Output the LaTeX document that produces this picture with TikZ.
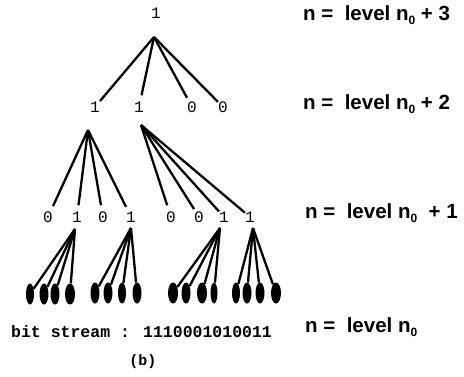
\documentclass[tikz,border=0pt]{standalone}
\usepackage{fontspec}
\newfontfamily\monof{Liberation Mono}
\newfontfamily\sansf{Liberation Sans}
\usetikzlibrary{shapes.geometric}
\newcommand{\nzero}{\raisebox{-0.4ex}{\fontsize{12}{12}\selectfont 0}}
\begin{document}
\begin{tikzpicture}[x=1pt,y=-1pt,
  digit/.style={font=\monof\fontsize{16}{16}\selectfont, inner sep=0pt, minimum height=23pt, minimum width=8pt},
  branch/.style={line width=2.3pt},
  leaf/.style={ellipse, fill=black, draw=none, minimum width=9pt, minimum height=21pt, inner sep=0pt},
  lvl/.style={font=\sansf\bfseries\fontsize{20.5}{20.5}\selectfont, anchor=base west, inner sep=0pt},
  captext/.style={font=\monof\bfseries\fontsize{16.5}{16.5}\selectfont, inner sep=0pt}]
\useasboundingbox (0,0) rectangle (464,376);

% root
\node[digit] (r) at (156,13) {1};
\coordinate (ra) at (154,37);

% level n0+2
\node[digit] (a1) at (95,107) {1};
\node[digit] (a2) at (139,107) {1};
\node[digit] (a3) at (192,107) {0};
\node[digit] (a4) at (223,107) {0};
\foreach \t in {a1,a2,a3,a4} \draw[branch] (ra) -- (\t);

\coordinate (a1x) at (88,130);
\coordinate (a2x) at (141,125);

% level n0+1
\node[digit] (b1) at (48,217) {0};
\node[digit] (b2) at (77,217) {1};
\node[digit] (b3) at (103,217) {0};
\node[digit] (b4) at (131,217) {1};
\node[digit] (b5) at (171,217) {0};
\node[digit] (b6) at (199,217) {0};
\node[digit] (b7) at (224,217) {1};
\node[digit] (b8) at (250,217) {1};
\foreach \t in {b1,b2,b3,b4} \draw[branch] (a1x) -- (\t);
\foreach \t in {b5,b6,b7,b8} \draw[branch] (a2x) -- (\t);

\coordinate (b2x) at (75,229);
\coordinate (b4x) at (131,228);
\coordinate (b7x) at (220,228);
\coordinate (b8x) at (253,228);

% leaves
\node[leaf, minimum width=8pt] (c1) at (30,294) {};
\node[leaf] (c2) at (44,294) {};
\node[leaf] (c3) at (55,294) {};
\node[leaf, minimum width=10pt] (c4) at (70,294) {};
\node[leaf] (c5) at (95,293) {};
\node[leaf] (c6) at (108,293) {};
\node[leaf, minimum width=8pt] (c7) at (122,293) {};
\node[leaf] (c8) at (137,293) {};
\node[leaf, minimum width=10pt] (c9) at (173,293) {};
\node[leaf] (c10) at (186,293) {};
\node[leaf, minimum width=10pt] (c11) at (202,293) {};
\node[leaf, minimum width=7pt] (c12) at (214,293) {};
\node[leaf, minimum width=8pt] (c13) at (236,293) {};
\node[leaf] (c14) at (247,293) {};
\node[leaf] (c15) at (260,293) {};
\node[leaf, minimum width=10pt] (c16) at (276,293) {};
\foreach \t in {c1,c2,c3,c4} \draw[branch] (b2x) -- (\t);
\foreach \t in {c5,c6,c7,c8} \draw[branch] (b4x) -- (\t);
\foreach \t in {c9,c10,c11,c12} \draw[branch] (b7x) -- (\t);
\foreach \t in {c13,c14,c15,c16} \draw[branch] (b8x) -- (\t);

% captions
\node[captext, anchor=base west] (bs) at (11,337) {bit stream : 1110001010011};
\node[captext, font=\monof\bfseries\fontsize{15}{15}\selectfont] (fb) at (143,362) {(b)};

% level labels
\node[lvl] (l3) at (303,20) {n =\ \ level n\nzero\ + 3};
\node[lvl] (l2) at (303,109) {n =\ \ level n\nzero\ + 2};
\node[lvl] (l1) at (305,218) {n =\ \ level n\nzero\ \ + 1};
\node[lvl] (l0) at (305,332) {n =\ \ level n\nzero};
\end{tikzpicture}
\end{document}
